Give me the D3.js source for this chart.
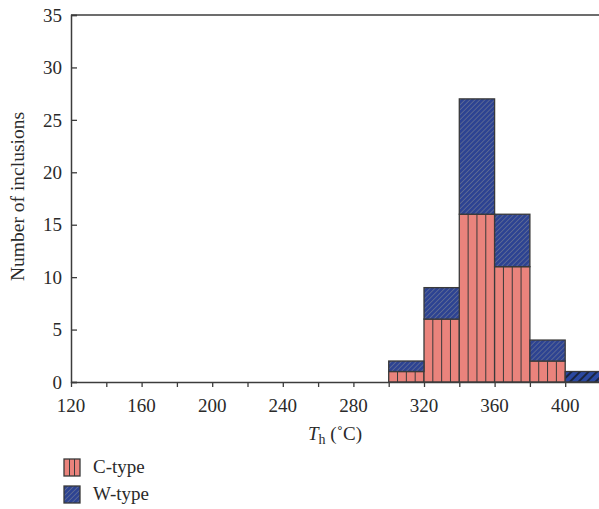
<!DOCTYPE html>
<html>
<head>
<meta charset="utf-8">
<script src="https://cdn.jsdelivr.net/npm/d3@7"></script>
<style>
  html, body { margin: 0; padding: 0; background: #fff; }
  svg { display: block; font-family: "Liberation Serif", "DejaVu Serif", serif; }
</style>
</head>
<body>
<svg id="chart" width="599" height="509"></svg>
<script>
// Homogenization temperature bins (lower edge, °C), bin width 20 °C
const binStarts = [300, 320, 340, 360, 380, 400];
const binWidth = 20;
// Counts of inclusions per bin
const cType = [1, 6, 16, 11, 2, 0];
const wType = [1, 3, 11, 5, 2, 1];

const xTicks = [120, 140, 160, 180, 200, 220, 240, 260, 280, 300, 320, 340, 360, 380, 400, 420];
const xTickLabels = [120, 160, 200, 240, 280, 320, 360, 400];
const yTicks = [0, 5, 10, 15, 20, 25, 30, 35];
const legendItems = ["C-type", "W-type"];

const pink = "#ea837c";
const blue = "#2d4392";
const edge = "#3a3a3a";
const axisColor = "#3c3c3c";
const textColor = "#2a2a2a";

const svg = d3.select("#chart");

const x = d3.scaleLinear().domain([120, 420]).range([71, 600.5]);
const y = d3.scaleLinear().domain([0, 35]).range([382, 15]);

// Hatch fills for W-type
const defs = svg.append("defs");
const hatch = defs.append("pattern")
  .attr("id", "hatchW")
  .attr("patternUnits", "userSpaceOnUse")
  .attr("width", 3.5).attr("height", 3.5)
  .attr("patternTransform", "rotate(-45)");
hatch.append("rect").attr("width", 3.5).attr("height", 3.5).attr("fill", blue);
hatch.append("line").attr("x1", 0).attr("y1", 0).attr("x2", 3.5).attr("y2", 0)
  .attr("stroke", "#7a8196").attr("stroke-width", 1.1);

const hatchWide = defs.append("pattern")
  .attr("id", "hatchWide")
  .attr("patternUnits", "userSpaceOnUse")
  .attr("width", 6).attr("height", 6)
  .attr("patternTransform", "rotate(-45)");
hatchWide.append("rect").attr("width", 6).attr("height", 6).attr("fill", "#2a48a0");
hatchWide.append("line").attr("x1", 0).attr("y1", 1).attr("x2", 6).attr("y2", 1)
  .attr("stroke", "#1a2540").attr("stroke-width", 2);

const bins = binStarts.map((s, i) => ({ s, e: s + binWidth, c: cType[i], w: wType[i] }));

const plot = svg.append("g");

// C-type bars (bottom of stack)
bins.filter(d => d.c > 0).forEach(d => {
  plot.append("rect")
    .attr("x", x(d.s)).attr("width", x(d.e) - x(d.s))
    .attr("y", y(d.c)).attr("height", y(0) - y(d.c))
    .attr("fill", pink).attr("stroke", edge).attr("stroke-width", 1.3);
  // vertical stripes every 5 °C
  [5, 10, 15].forEach(o => {
    plot.append("line")
      .attr("x1", x(d.s + o)).attr("x2", x(d.s + o))
      .attr("y1", y(d.c)).attr("y2", y(0))
      .attr("stroke", edge).attr("stroke-width", 1);
  });
});

// W-type bars stacked on top
bins.filter(d => d.w > 0).forEach(d => {
  plot.append("rect")
    .attr("x", x(d.s)).attr("width", x(d.e) - x(d.s))
    .attr("y", y(d.c + d.w)).attr("height", y(d.c) - y(d.c + d.w))
    .attr("fill", d.c === 0 ? "url(#hatchWide)" : "url(#hatchW)")
    .attr("stroke", edge).attr("stroke-width", 1.3);
});

// Top frame line
svg.append("line")
  .attr("x1", x(120)).attr("x2", 599).attr("y1", y(35)).attr("y2", y(35))
  .attr("stroke", axisColor).attr("stroke-width", 1.5);

// Y axis, ticks pointing inward
const yAxis = svg.append("g")
  .attr("transform", `translate(${x(120)},0)`)
  .call(d3.axisRight(y).tickValues(yTicks).tickSize(6).tickFormat(""));
yAxis.select(".domain").attr("stroke", axisColor).attr("stroke-width", 1.5);
yAxis.selectAll(".tick line").attr("stroke", axisColor).attr("stroke-width", 1.3);

svg.append("g").selectAll("text")
  .data(yTicks).join("text")
  .attr("x", 62).attr("y", d => y(d)).attr("dy", "0.35em")
  .attr("text-anchor", "end")
  .attr("font-size", 19).attr("fill", textColor)
  .text(d => d);

// X axis, ticks pointing outward
const xAxis = svg.append("g")
  .attr("transform", `translate(0,${y(0)})`)
  .call(d3.axisBottom(x).tickValues(xTicks).tickSize(5).tickSizeOuter(0).tickFormat(""));
xAxis.select(".domain").attr("stroke", axisColor).attr("stroke-width", 1.5);
xAxis.selectAll(".tick line").attr("stroke", axisColor).attr("stroke-width", 1.3);

svg.append("g").selectAll("text")
  .data(xTickLabels).join("text")
  .attr("x", d => x(d)).attr("y", 412)
  .attr("text-anchor", "middle")
  .attr("font-size", 19).attr("fill", textColor)
  .text(d => d);

// Axis titles
const xt = svg.append("text")
  .attr("x", 335).attr("y", 440)
  .attr("text-anchor", "middle")
  .attr("font-size", 19).attr("fill", textColor);
xt.append("tspan").attr("font-style", "italic").text("T");
xt.append("tspan").attr("font-size", 14).attr("dy", 4).text("h");
xt.append("tspan").attr("dy", -4).text(" (\u02DAC)");

svg.append("text")
  .attr("transform", `translate(24,${(y(0) + y(35)) / 2 - 2}) rotate(-90)`)
  .attr("text-anchor", "middle")
  .attr("font-size", 19.5).attr("fill", textColor)
  .text("Number of inclusions");

// Legend
const legend = svg.append("g");
legendItems.forEach((name, i) => {
  const ly = 459 + i * 27;
  legend.append("rect")
    .attr("x", 64).attr("y", ly).attr("width", 16).attr("height", 17)
    .attr("fill", i === 0 ? pink : "url(#hatchW)")
    .attr("stroke", edge).attr("stroke-width", 1.3);
  if (i === 0) {
    [69.5, 74.5].forEach(lx => {
      legend.append("line")
        .attr("x1", lx).attr("x2", lx).attr("y1", ly).attr("y2", ly + 17)
        .attr("stroke", edge).attr("stroke-width", 1);
    });
  }
  legend.append("text")
    .attr("x", 93).attr("y", ly + 14)
    .attr("font-size", 19).attr("fill", textColor)
    .text(name);
});
</script>
</body>
</html>
